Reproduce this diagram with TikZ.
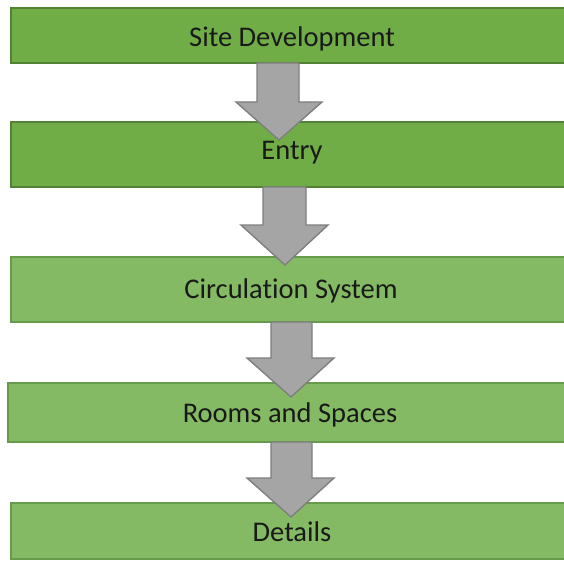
\documentclass[tikz,border=0pt]{standalone}
\usepackage{fontspec}
\setmainfont[Ligatures=NoCommon]{Carlito}
\definecolor{barA}{HTML}{70AD47}
\definecolor{barAedge}{HTML}{548235}
\definecolor{barB}{HTML}{84BA63}
\definecolor{barBedge}{HTML}{679B4C}
\definecolor{arrfill}{HTML}{A5A5A5}
\definecolor{arredge}{HTML}{7F7F7F}
\tikzset{
  barbox/.style={rectangle, draw=barAedge, fill=barA, line width=2.5pt, outer sep=0pt, inner sep=0pt, minimum width=570pt, anchor=north west},
  barlight/.style={barbox, draw=barBedge, fill=barB},
  lbl/.style={font=\fontsize{28.5}{32}\selectfont, text=black!90, anchor=base, inner sep=0pt},
  blockarrow/.style={draw=arredge, fill=arrfill, line width=1.4pt, line join=miter}
}
\begin{document}
\begin{tikzpicture}[x=1pt,y=-1pt]
\clip (0,0) rectangle (564,561);
\fill[white] (0,0) rectangle (564,561);
% bars
\node[barbox, minimum height=55pt] (b1) at (11,8) {};
\node[barbox, minimum height=65pt] (b2) at (11,122) {};
\node[barlight, minimum height=65pt] (b3) at (11,257) {};
\node[barlight, minimum height=59pt] (b4) at (8,383) {};
\node[barlight, minimum height=56pt] (b5) at (11,503) {};
% block arrows
\draw[blockarrow] (257,63) -- (299,63) -- (299,102) -- (322,102) -- (279,140) -- (236,102) -- (257,102) -- cycle;
\draw[blockarrow] (263,187) -- (306,187) -- (306,225) -- (328,225) -- (285,265) -- (241,225) -- (263,225) -- cycle;
\draw[blockarrow] (271,322) -- (312,322) -- (312,358) -- (334,358) -- (291,397) -- (247,358) -- (271,358) -- cycle;
\draw[blockarrow] (271,442) -- (312,442) -- (312,478) -- (334,478) -- (291,517) -- (247,478) -- (271,478) -- cycle;
% labels
\node[lbl] (t1) at (292,47) {Site Development};
\node[lbl] (t2) at (292,160) {Entry};
\node[lbl] (t3) at (291,298) {Circulation System};
\node[lbl] (t4) at (290,422) {Rooms and Spaces};
\node[lbl] (t5) at (292,541) {Details};
\end{tikzpicture}
\end{document}
